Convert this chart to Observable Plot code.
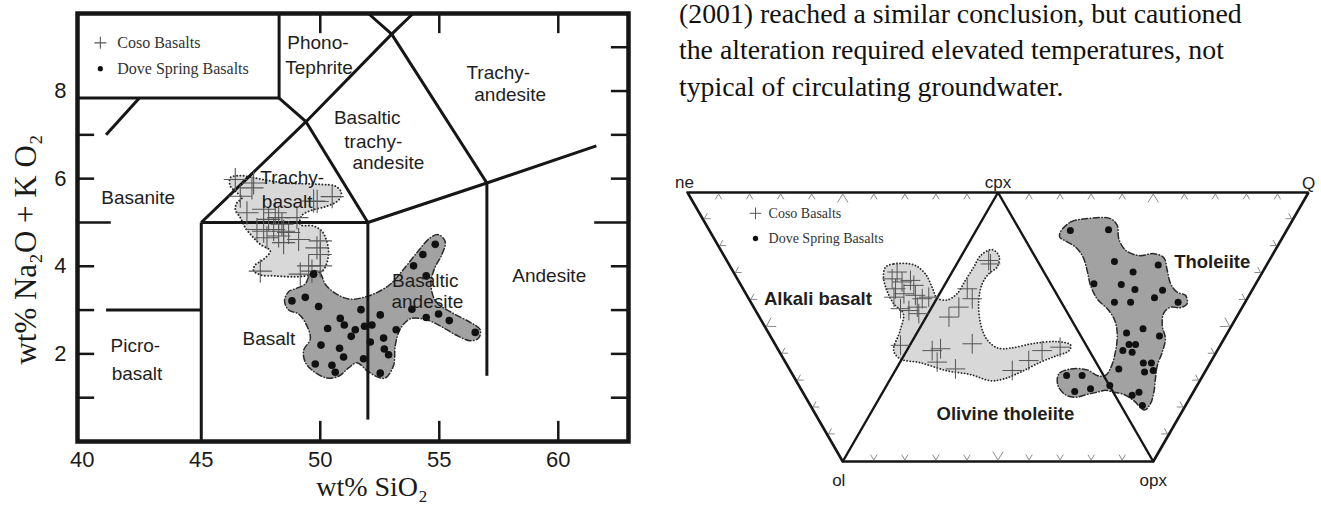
<!DOCTYPE html>
<html><head><meta charset="utf-8">
<script src="https://cdn.jsdelivr.net/npm/d3@7"></script>
<script src="https://cdn.jsdelivr.net/npm/@observablehq/plot@0.6"></script>
<style>
html,body{margin:0;padding:0;background:#fff;width:1321px;height:506px;overflow:hidden;position:relative}
#tas{position:absolute;left:0;top:0}
#ter{position:absolute;left:660px;top:150px}
#para{position:absolute;left:679px;top:-4.5px;font-family:"Liberation Serif","Times New Roman",serif;font-size:27.8px;line-height:36.5px;color:#111;white-space:nowrap}
svg{overflow:visible}
</style></head><body>
<div id="tas"></div><div id="ter"></div>
<div id="para">(2001) reached a similar conclusion, but cautioned<br>the alteration required elevated temperatures, not<br>typical of circulating groundwater.</div>
<script>
// ---------------- TAS diagram data ----------------
const xTicks = [40, 45, 50, 55, 60];
const yTicks = [2, 4, 6, 8];
const innerTicksX = [50, 55, 60];
const leftTicksY = [1, 2, 3, 4, 5, 6, 7];
const rightTicksY = [1, 2, 3, 4, 5, 6, 7, 8, 9];

const tasBoundaries = [
  [[41, 3], [45, 3]],
  [[45, 0], [45, 5]],
  [[45, 5], [52, 5]],
  [[52, 0.5], [52, 5]],
  [[57, 1.5], [57, 5.9]],
  [[52, 5], [57, 5.9], [61.6, 6.75]],
  [[45, 5], [49.4, 7.3], [53, 9.3], [53.9, 9.77]],
  [[52, 5], [49.4, 7.3], [48.27, 7.84]],
  [[57, 5.9], [53, 9.3], [52.02, 9.77]],
  [[39.8, 7.84], [48.27, 7.84], [48.27, 9.77]],
  [[41, 7], [42.4, 7.84]]
];

const tasLabelText = ["Phono-", "Tephrite", "Trachy-", "andesite", "Basaltic", "trachy-", "andesite",
  "Trachy-", "basalt", "Basanite", "Picro-", "basalt", "Basalt", "Basaltic", "andesite", "Andesite"];
const tasLabelX = [49.9, 49.95, 57.48, 57.98, 51.97, 52.23, 52.86, 48.82, 48.61, 42.35, 42.23, 42.3, 47.84, 54.41, 54.5, 59.62];
const tasLabelY = [9.11, 8.52, 8.41, 7.91, 7.39, 6.84, 6.36, 6.02, 5.48, 5.55, 2.18, 1.55, 2.34, 3.66, 3.18, 3.77];

const cosoFieldTAS = [[46.22,6.02],[46.64,6.07],[47.2,6.02],[48.0,5.94],[48.6,5.9],[50.0,5.87],[50.63,5.83],[50.88,5.69],[50.77,5.51],[50.28,5.37],[49.65,5.28],[49.23,5.16],[49.16,4.95],[49.72,4.92],[50.07,4.8],[50.25,4.61],[50.35,4.35],[50.28,4.08],[50.1,3.9],[49.6,3.8],[48.9,3.76],[48.1,3.78],[47.5,3.8],[47.2,3.9],[47.25,4.02],[47.62,4.16],[47.9,4.35],[47.48,4.5],[47.13,4.69],[46.85,4.88],[46.64,5.11],[46.43,5.3],[46.5,5.45],[46.71,5.56],[46.43,5.71],[46.22,5.83]];

const doveFieldTAS = [[49.72,3.9],[50.0,3.84],[50.21,3.59],[50.7,3.36],[51.26,3.25],[51.82,3.29],[52.38,3.4],[52.94,3.59],[53.5,3.93],[54.06,4.31],[54.62,4.65],[54.97,4.72],[55.25,4.56],[55.11,4.27],[54.8,3.95],[54.65,3.6],[54.85,3.2],[55.5,2.95],[56.3,2.72],[56.72,2.55],[56.65,2.36],[56.3,2.3],[55.7,2.43],[55.1,2.62],[54.45,2.78],[53.78,2.8],[53.36,2.57],[53.15,2.19],[53.08,1.74],[52.73,1.45],[52.38,1.48],[51.96,1.62],[51.54,1.8],[51.19,1.68],[50.77,1.49],[50.28,1.45],[49.72,1.6],[49.37,1.81],[49.3,2.08],[49.58,2.34],[49.44,2.64],[49.09,2.91],[48.67,3.0],[48.5,3.21],[48.67,3.42],[49.02,3.5],[49.37,3.6],[49.55,3.8]];

const cosoTAS = [[46.43,5.98],[47.2,5.9],[47.13,5.79],[46.64,5.6],[46.92,5.22],[47.62,5.3],[48.11,5.22],[48.25,5.11],[47.83,5.07],[48.39,4.96],[49.02,5.11],[49.72,5.49],[50.5,5.59],[49.87,5.48],[47.34,4.84],[47.62,4.8],[48.04,4.84],[48.46,4.8],[48.25,4.69],[47.76,4.65],[48.46,4.54],[49.09,4.61],[50.0,4.58],[49.86,4.42],[50.0,4.27],[49.51,4.01],[50.0,4.01],[49.16,3.82],[49.65,3.89],[47.48,3.89],[48.67,4.77]];

const doveTAS = [[48.81,3.21],[49.37,3.29],[49.93,3.08],[50.84,2.81],[51.01,2.66],[50.31,2.58],[51.47,2.55],[51.3,2.4],[51.71,3.01],[51.86,2.63],[52.17,2.66],[50.03,2.2],[50.81,2.13],[50.98,1.93],[51.82,1.89],[49.79,1.77],[50.49,1.74],[50.63,1.58],[52.1,2.27],[52.66,2.36],[52.69,2.11],[52.87,1.98],[52.52,1.56],[52.52,2.89],[53.19,2.55],[53.92,4.01],[54.31,4.27],[54.83,4.5],[54.45,3.78],[53.85,3.02],[54.45,2.83],[54.97,2.91],[55.42,2.76],[56.51,2.49],[49.72,3.82]];

const legendNames = ["Coso Basalts", "Dove Spring Basalts"];
const tasLegendX = 40.76, tasLegendTextX = 41.47;
const tasLegendY = [9.1, 8.51];

// ---------------- Ternary diagram data (cartesian units, side = 1) ----------------
const ternVertexNames = ["ne", "cpx", "Q", "ol", "opx"];
const ternVertexU = [0, 1, 2, 0.5, 1.5];
const ternVertexV = [0.866, 0.866, 0.866, 0, 0];
const tickFractions = [0.1, 0.2, 0.3, 0.4, 0.5, 0.6, 0.7, 0.8, 0.9];

const ternLabelText = ["Alkali basalt", "Olivine tholeiite", "Tholeiite"];
const ternLabelU = [0.42, 1.024, 1.69];
const ternLabelV = [0.524, 0.154, 0.642];

const cosoFieldTer = [[0.638,0.626],[0.665,0.636],[0.729,0.633],[0.766,0.604],[0.788,0.561],[0.804,0.526],[0.836,0.52],[0.868,0.54],[0.895,0.583],[0.922,0.626],[0.944,0.663],[0.981,0.682],[1.004,0.66],[0.997,0.626],[0.97,0.604],[0.949,0.572],[0.938,0.519],[0.944,0.443],[0.965,0.392],[1.0,0.365],[1.04,0.365],[1.115,0.38],[1.19,0.386],[1.234,0.375],[1.228,0.356],[1.19,0.341],[1.137,0.32],[1.073,0.288],[1.019,0.266],[0.976,0.26],[0.911,0.28],[0.836,0.292],[0.75,0.318],[0.686,0.33],[0.664,0.357],[0.685,0.422],[0.695,0.476],[0.664,0.508],[0.642,0.551],[0.631,0.594]];

const doveFieldTer = [[1.201,0.739],[1.234,0.771],[1.287,0.782],[1.362,0.782],[1.384,0.76],[1.389,0.717],[1.411,0.68],[1.454,0.663],[1.502,0.669],[1.534,0.656],[1.545,0.615],[1.556,0.572],[1.577,0.545],[1.604,0.535],[1.609,0.508],[1.588,0.495],[1.556,0.497],[1.534,0.478],[1.529,0.438],[1.539,0.395],[1.529,0.352],[1.513,0.309],[1.507,0.266],[1.502,0.223],[1.491,0.186],[1.472,0.166],[1.437,0.196],[1.405,0.216],[1.373,0.223],[1.346,0.229],[1.319,0.223],[1.287,0.216],[1.25,0.207],[1.217,0.215],[1.193,0.245],[1.196,0.282],[1.234,0.298],[1.287,0.295],[1.319,0.277],[1.346,0.277],[1.364,0.304],[1.378,0.352],[1.384,0.406],[1.378,0.449],[1.357,0.486],[1.319,0.524],[1.298,0.567],[1.287,0.615],[1.274,0.658],[1.25,0.69],[1.217,0.71],[1.199,0.722]];

const cosoTer = [[0.659,0.588],[0.675,0.61],[0.691,0.578],[0.718,0.583],[0.729,0.567],[0.67,0.556],[0.697,0.54],[0.665,0.529],[0.734,0.535],[0.756,0.524],[0.777,0.529],[0.686,0.492],[0.713,0.486],[0.74,0.497],[0.745,0.476],[0.901,0.556],[0.917,0.524],[0.874,0.497],[0.842,0.465],[0.97,0.647],[0.976,0.636],[0.686,0.374],[0.788,0.357],[0.815,0.363],[0.804,0.32],[0.863,0.298],[0.917,0.379],[1.099,0.325],[1.046,0.293],[1.142,0.357],[1.2,0.368]];

const doveTer = [[1.233,0.744],[1.356,0.746],[1.375,0.644],[1.435,0.61],[1.516,0.633],[1.309,0.572],[1.397,0.57],[1.441,0.554],[1.53,0.551],[1.504,0.527],[1.375,0.513],[1.427,0.513],[1.58,0.513],[1.467,0.427],[1.414,0.414],[1.52,0.404],[1.422,0.377],[1.443,0.377],[1.402,0.357],[1.432,0.352],[1.468,0.317],[1.494,0.317],[1.389,0.298],[1.472,0.288],[1.5,0.293],[1.221,0.277],[1.271,0.277],[1.247,0.225],[1.298,0.234],[1.36,0.245],[1.432,0.213],[1.454,0.223],[1.465,0.18]];

const terLegendU = 0.219, terLegendTextU = 0.261;
const terLegendV = [0.799, 0.718];

// ---------------- shared styles ----------------
const SANS = "'Liberation Sans', Arial, Helvetica, sans-serif";
const SERIF = "'Liberation Serif', 'Times New Roman', serif";
const LIGHT = "#d8d8d8", DARK = "#a2a2a2", INK = "#161616";

// ---------------- TAS plot ----------------
const xMin = 39.8, xMax = 62.95, yMin = 0, yMax = 9.77;
const boundaryRows = tasBoundaries.flatMap((seg, i) => seg.map(p => ({x: p[0], y: p[1], id: i})));
const tasLabels = tasLabelText.map((t, i) => ({t, x: tasLabelX[i], y: tasLabelY[i]}));
const tasLegend = legendNames.map((n, i) => ({n, y: tasLegendY[i], i}));

const tas = Plot.plot({
  width: 640, height: 506,
  marginLeft: 77, marginRight: 12, marginTop: 13, marginBottom: 65,
  x: {domain: [xMin, xMax], axis: null},
  y: {domain: [yMin, yMax], axis: null},
  style: {fontFamily: SANS, fontSize: "19px", background: "none", color: INK, overflow: "visible"},
  marks: [
    Plot.line(cosoFieldTAS, {x: d => d[0], y: d => d[1], curve: "catmull-rom-closed", fill: LIGHT, stroke: "#2a2a2a", strokeWidth: 1.9, strokeDasharray: "0.1 3.2", strokeLinecap: "round"}),
    Plot.line(doveFieldTAS, {x: d => d[0], y: d => d[1], curve: "catmull-rom-closed", fill: DARK, stroke: "#2a2a2a", strokeWidth: 1.5, strokeDasharray: "6 2.5 0.5 2.5", strokeLinecap: "round"}),
    Plot.line(boundaryRows, {x: "x", y: "y", z: "id", stroke: INK, strokeWidth: 3, strokeLinecap: "butt"}),
    Plot.ruleY(leftTicksY, {y: d => d, x1: xMin, x2: d => xMin + (d === 5 ? 1.42 : 0.72), stroke: INK, strokeWidth: 2.5}),
    Plot.ruleY(rightTicksY, {y: d => d, x1: d => xMax - (d === 5 ? 1.42 : 0.72), x2: xMax, stroke: INK, strokeWidth: 2.5}),
    Plot.ruleX(innerTicksX, {x: d => d, y1: yMin, y2: yMin + 0.46, stroke: INK, strokeWidth: 2.5}),
    Plot.ruleX(innerTicksX, {x: d => d, y1: yMax - 0.46, y2: yMax, stroke: INK, strokeWidth: 2.5}),
    Plot.frame({stroke: INK, strokeWidth: 4.5}),
    Plot.dot(cosoTAS, {x: d => d[0], y: d => d[1], symbol: "plus", r: 7.5, stroke: "#585858", strokeWidth: 1.1, fill: "none"}),
    Plot.dot(doveTAS, {x: d => d[0], y: d => d[1], r: 3.8, fill: "#111", stroke: "none"}),
    Plot.text(tasLabels, {x: "x", y: "y", text: "t", fontSize: 19, fill: "#1e1e1e", lineAnchor: "middle"}),
    Plot.dot(tasLegend, {x: tasLegendX, y: "y", symbol: d => d.i === 0 ? "plus" : "circle", r: d => d.i === 0 ? 7.5 : 3.3, stroke: d => d.i === 0 ? "#585858" : "none", fill: d => d.i === 0 ? "none" : "#111", strokeWidth: 1.1}),
    Plot.text(tasLegend, {x: tasLegendTextX, y: "y", text: "n", textAnchor: "start", lineAnchor: "middle", fontFamily: SERIF, fontSize: 16, fill: "#333"}),
    Plot.axisX({ticks: xTicks, tickSize: 0, tickPadding: 10, fontSize: 22, fill: "#1a1a1a", label: null}),
    Plot.axisY({ticks: yTicks, tickSize: 0, tickPadding: 11, fontSize: 22, fill: "#1a1a1a", label: null}),
    Plot.text(["wt% SiO\u2082"], {frameAnchor: "bottom", textAnchor: "middle", dx: 19, dy: 54, lineAnchor: "bottom", fontFamily: SERIF, fontSize: 28, fill: "#1a1a1a"}),
    Plot.text(["wt% Na\u2082O + K O\u2082"], {frameAnchor: "left", textAnchor: "middle", rotate: -90, dx: -42, dy: 22, lineAnchor: "bottom", fontFamily: SERIF, fontSize: 31, fill: "#1a1a1a"})
  ]
});
document.getElementById("tas").appendChild(tas);

// ---------------- Ternary plot ----------------
const V = Object.fromEntries(ternVertexNames.map((n, i) => [n, [ternVertexU[i], ternVertexV[i]]]));
const outline = ["ne", "Q", "opx", "ol", "ne"].map(n => ({u: V[n][0], v: V[n][1]}));
const inner = ["ol", "cpx", "opx"].map(n => ({u: V[n][0], v: V[n][1]}));
const center = [1, 0.433];
const px = 1 / 310.5;
const tickEdges = [["ne", "cpx"], ["cpx", "Q"], ["ol", "opx"], ["ne", "ol"], ["opx", "Q"]];
const chevronRows = [];
tickEdges.forEach(([a, b], ei) => {
  const A = V[a], B = V[b];
  const L = Math.hypot(B[0] - A[0], B[1] - A[1]);
  const d = [(B[0] - A[0]) / L, (B[1] - A[1]) / L];
  tickFractions.forEach((f, fi) => {
    const P = [A[0] + f * (B[0] - A[0]), A[1] + f * (B[1] - A[1])];
    let n = [-d[1], d[0]];
    if (n[0] * (center[0] - P[0]) + n[1] * (center[1] - P[1]) < 0) n = [d[1], -d[0]];
    const big = f === 0.5;
    const sn = (big ? 8 : 5) * px, sd = (big ? 5 : 3) * px, s0 = 1.5 * px;
    const id = ei * 100 + fi;
    const apex = [P[0] + n[0] * s0, P[1] + n[1] * s0];
    chevronRows.push({u: apex[0] + n[0] * sn - d[0] * sd, v: apex[1] + n[1] * sn - d[1] * sd, id});
    chevronRows.push({u: apex[0], v: apex[1], id});
    chevronRows.push({u: apex[0] + n[0] * sn + d[0] * sd, v: apex[1] + n[1] * sn + d[1] * sd, id});
  });
});
const vert = n => [{n, u: V[n][0], v: V[n][1]}];
const ternLabels = ternLabelText.map((t, i) => ({t, u: ternLabelU[i], v: ternLabelV[i]}));
const terLegend = legendNames.map((n, i) => ({n, v: terLegendV[i], i}));
const vStyle = {x: "u", y: "v", text: "n", lineAnchor: "bottom", fontSize: 17, fill: "#1e1e1e"};

const ter = Plot.plot({
  width: 661, height: 356,
  marginLeft: 27, marginRight: 13, marginTop: 42, marginBottom: 45,
  x: {domain: [0, 2], axis: null},
  y: {domain: [0, 0.866], axis: null},
  style: {fontFamily: SANS, fontSize: "17px", background: "none", color: INK, overflow: "visible"},
  marks: [
    Plot.line(cosoFieldTer, {x: d => d[0], y: d => d[1], curve: "catmull-rom-closed", fill: LIGHT, stroke: "#2a2a2a", strokeWidth: 1.8, strokeDasharray: "0.1 3", strokeLinecap: "round"}),
    Plot.line(doveFieldTer, {x: d => d[0], y: d => d[1], curve: "catmull-rom-closed", fill: DARK, stroke: "#2a2a2a", strokeWidth: 1.5, strokeDasharray: "6 2.5 0.5 2.5", strokeLinecap: "round"}),
    Plot.line(chevronRows, {x: "u", y: "v", z: "id", stroke: "#8a8a8a", strokeWidth: 1, curve: "linear"}),
    Plot.line(outline, {x: "u", y: "v", stroke: INK, strokeWidth: 2.6, strokeLinejoin: "miter"}),
    Plot.line(inner, {x: "u", y: "v", stroke: INK, strokeWidth: 2.4, strokeLinejoin: "miter"}),
    Plot.dot(cosoTer, {x: d => d[0], y: d => d[1], symbol: "plus", r: 6.4, stroke: "#555", strokeWidth: 1, fill: "none"}),
    Plot.dot(doveTer, {x: d => d[0], y: d => d[1], r: 3.5, fill: "#111", stroke: "none"}),
    Plot.text(vert("ne"), {...vStyle, dx: -3, dy: -5}),
    Plot.text(vert("cpx"), {...vStyle, dy: -5}),
    Plot.text(vert("Q"), {...vStyle, dy: -4}),
    Plot.text(vert("ol"), {...vStyle, dx: -4, dy: 24}),
    Plot.text(vert("opx"), {...vStyle, dy: 24}),
    Plot.text(ternLabels, {x: "u", y: "v", text: "t", fontSize: 18.5, fontWeight: "bold", fill: "#1e1e1e", lineAnchor: "middle"}),
    Plot.dot(terLegend, {x: terLegendU, y: "v", symbol: d => d.i === 0 ? "plus" : "circle", r: d => d.i === 0 ? 6.4 : 3.1, stroke: d => d.i === 0 ? "#555" : "none", fill: d => d.i === 0 ? "none" : "#111", strokeWidth: 1}),
    Plot.text(terLegend, {x: terLegendTextU, y: "v", text: "n", textAnchor: "start", lineAnchor: "middle", fontFamily: SERIF, fontSize: 14, fill: "#333"})
  ]
});
document.getElementById("ter").appendChild(ter);
</script>
</body></html>
